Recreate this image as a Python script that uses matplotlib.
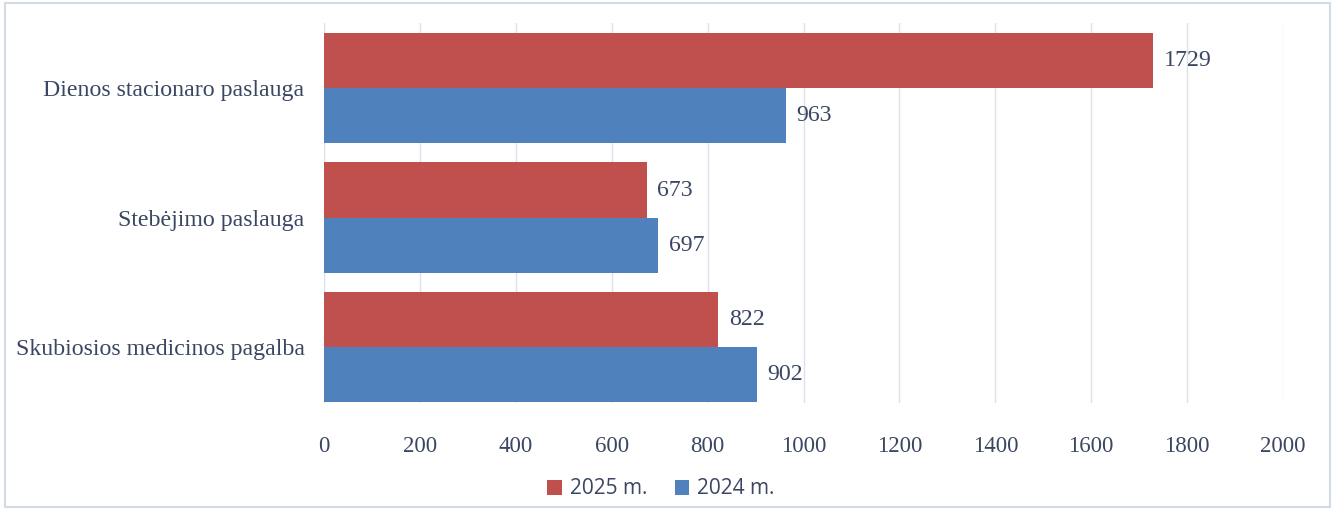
import matplotlib.pyplot as plt
from matplotlib.patches import Rectangle

categories = ['Skubiosios medicinos pagalba', 'Stebėjimo paslauga', 'Dienos stacionaro paslauga']
vals_2025 = [822, 673, 1729]
vals_2024 = [902, 697, 963]
labels = ['2025 m.', '2024 m.']
xticks = [0, 200, 400, 600, 800, 1000, 1200, 1400, 1600, 1800, 2000]

red = '#C0504D'
blue = '#4F81BD'
txt = '#3a4662'

fig = plt.figure(figsize=(13.35, 5.09), dpi=100)
ax = fig.add_axes([324 / 1335, 106 / 509, 959 / 1335, 380 / 509])

# outer frame
fig.patches.append(Rectangle((5 / 1335, 2 / 509), 1325 / 1335, 504 / 509, transform=fig.transFigure,
                             fill=False, edgecolor='#d3dbe6', linewidth=1.5))

h = 0.425
ypos = list(range(len(categories)))
b1 = ax.barh([y + h / 2 for y in ypos], vals_2025, height=h, color=red, label=labels[0], zorder=2)
b2 = ax.barh([y - h / 2 for y in ypos], vals_2024, height=h, color=blue, label=labels[1], zorder=2)

for bars in (b1, b2):
    for r in bars:
        ax.text(r.get_width() + 22, r.get_y() + r.get_height() / 2, str(int(r.get_width())),
                va='center', ha='left', fontsize=17.2, family='Liberation Serif', color=txt)

ax.set_xlim(0, 2000)
ax.set_ylim(-0.432, 2.502)
ax.set_xticks(xticks)
ax.set_xticklabels([str(v) for v in xticks], fontsize=16.5, family='Liberation Serif', color=txt)
ax.set_yticks(ypos)
ax.set_yticklabels(categories, fontsize=17.2, family='Liberation Serif', color=txt)
ax.tick_params(axis='y', length=0, pad=14)
ax.tick_params(axis='x', length=0, pad=24)
ax.grid(axis='x', color='#d9e1ec', linewidth=1, zorder=0)
for s in ax.spines.values():
    s.set_visible(False)

fig.legend(handles=[b1, b2], labels=labels, loc='center', bbox_to_anchor=(661 / 1335, 20 / 509),
           ncol=2, frameon=False, prop={'family': 'Open Sans', 'size': 15}, labelcolor=txt,
           handlelength=0.7, handleheight=0.7, handletextpad=0.4, columnspacing=1.3)

fig.savefig('out.png', dpi=100)
